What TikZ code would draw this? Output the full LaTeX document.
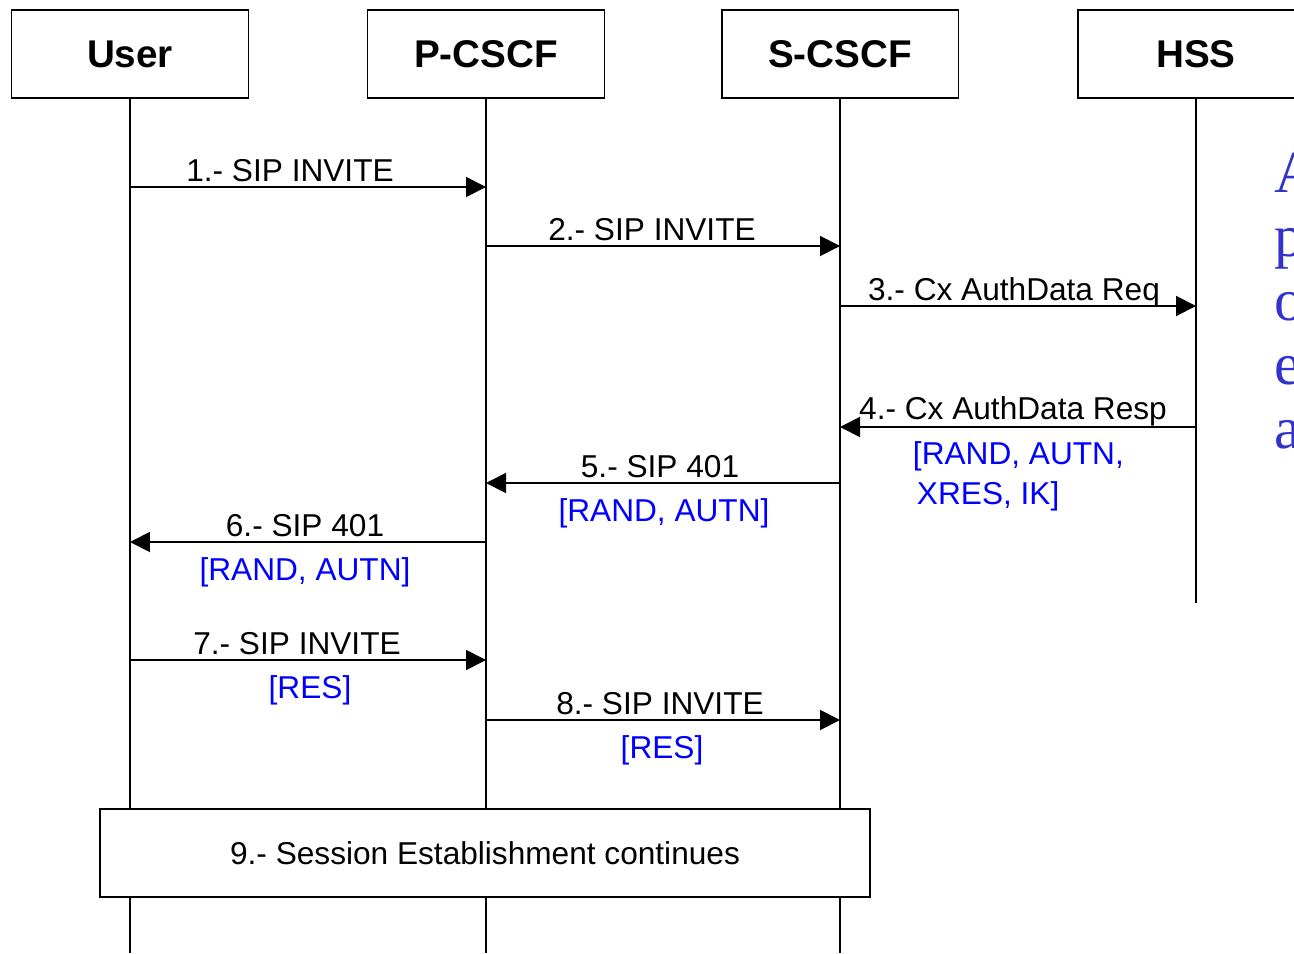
\documentclass[tikz,border=0pt]{standalone}
\usepackage{fontspec}
\setmainfont{Liberation Sans}
\newfontfamily\sideserif{Liberation Serif}
\usetikzlibrary{arrows.meta}
\definecolor{sideblue}{RGB}{51,51,204}

\begin{document}
\begin{tikzpicture}[x=0.02cm, y=-0.02cm, line width=1.1pt,
  actor/.style={draw, minimum width=4.74cm, minimum height=1.76cm, inner sep=0pt,
    font=\fontsize{22}{26}\selectfont\bfseries},
  msg/.style={-{Triangle[length=0.4cm, width=0.4cm]}},
  lbl/.style={inner sep=0pt, anchor=base, font=\fontsize{18}{21}\selectfont},
  par/.style={lbl, text=blue},
  side/.style={inner sep=0pt, anchor=base west, text=sideblue,
    font=\sideserif\fontsize{34}{36}\selectfont}]
\useasboundingbox (0,0) rectangle (1294,953);
\node[actor] (user) at (130,54){User};
\node[actor] (pcscf) at (486,54){P-CSCF};
\node[actor] (scscf) at (840,54){S-CSCF};
\node[actor] (hss) at (1196,54){HSS};
\coordinate (userEnd) at (130,953);
\coordinate (pcscfEnd) at (486,953);
\coordinate (scscfEnd) at (840,953);
\coordinate (hssEnd) at (1196,603);
\draw[](user) -- (userEnd);
\draw[](pcscf) -- (pcscfEnd);
\draw[](scscf) -- (scscfEnd);
\draw[](hss) -- (hssEnd);
% messages
\coordinate (u1) at (130,187);
\coordinate (p1) at (486,187);
\draw[msg](u1) -- (p1);
\node[lbl] (m1) at (290,181){1.- SIP INVITE};
\coordinate (p2) at (486,246);
\coordinate (s2) at (840,246);
\draw[msg](p2) -- (s2);
\node[lbl] (m2) at (652,240){2.- SIP INVITE};
\coordinate (s3) at (840,306);
\coordinate (h3) at (1196,306);
\draw[msg](s3) -- (h3);
\node[lbl] (m3) at (1014,300){3.- Cx AuthData Req};
\coordinate (h4) at (1196,427);
\coordinate (s4) at (840,427);
\draw[msg](h4) -- (s4);
\node[lbl] (m4) at (1013,419){4.- Cx AuthData Resp};
\node[par, anchor=base west] (v4a) at (912,464){[RAND, AUTN,};
\node[par, anchor=base west] (v4b) at (916,504){XRES, IK]};
\coordinate (s5) at (840,483);
\coordinate (p5) at (486,483);
\draw[msg](s5) -- (p5);
\node[lbl] (m5) at (660,477){5.- SIP 401};
\node[par] (v5) at (664,521){[RAND, AUTN]};
\coordinate (p6) at (486,542);
\coordinate (u6) at (130,542);
\draw[msg](p6) -- (u6);
\node[lbl] (m6) at (305,536){6.- SIP 401};
\node[par] (v6) at (305,580){[RAND, AUTN]};
\coordinate (u7) at (130,660);
\coordinate (p7) at (486,660);
\draw[msg](u7) -- (p7);
\node[lbl] (m7) at (297,654){7.- SIP INVITE};
\node[par] (v7) at (310,698){[RES]};
\coordinate (p8) at (486,720);
\coordinate (s8) at (840,720);
\draw[msg](p8) -- (s8);
\node[lbl] (m8) at (660,714){8.- SIP INVITE};
\node[par] (v8) at (662,758){[RES]};
% session box
\node[draw, fill=white, minimum width=15.4cm, minimum height=1.76cm,
  font=\fontsize{18}{21}\selectfont] (sess) at (485,853){9.- Session Establishment continues};
% cut-off side text
\node[side] (sd0) at (1274,192){A};
\node[side] (sd1) at (1274,256){p};
\node[side] (sd2) at (1274,320){o};
\node[side] (sd3) at (1274,384){e};
\node[side] (sd4) at (1274,448){a};
\end{tikzpicture}
\end{document}
